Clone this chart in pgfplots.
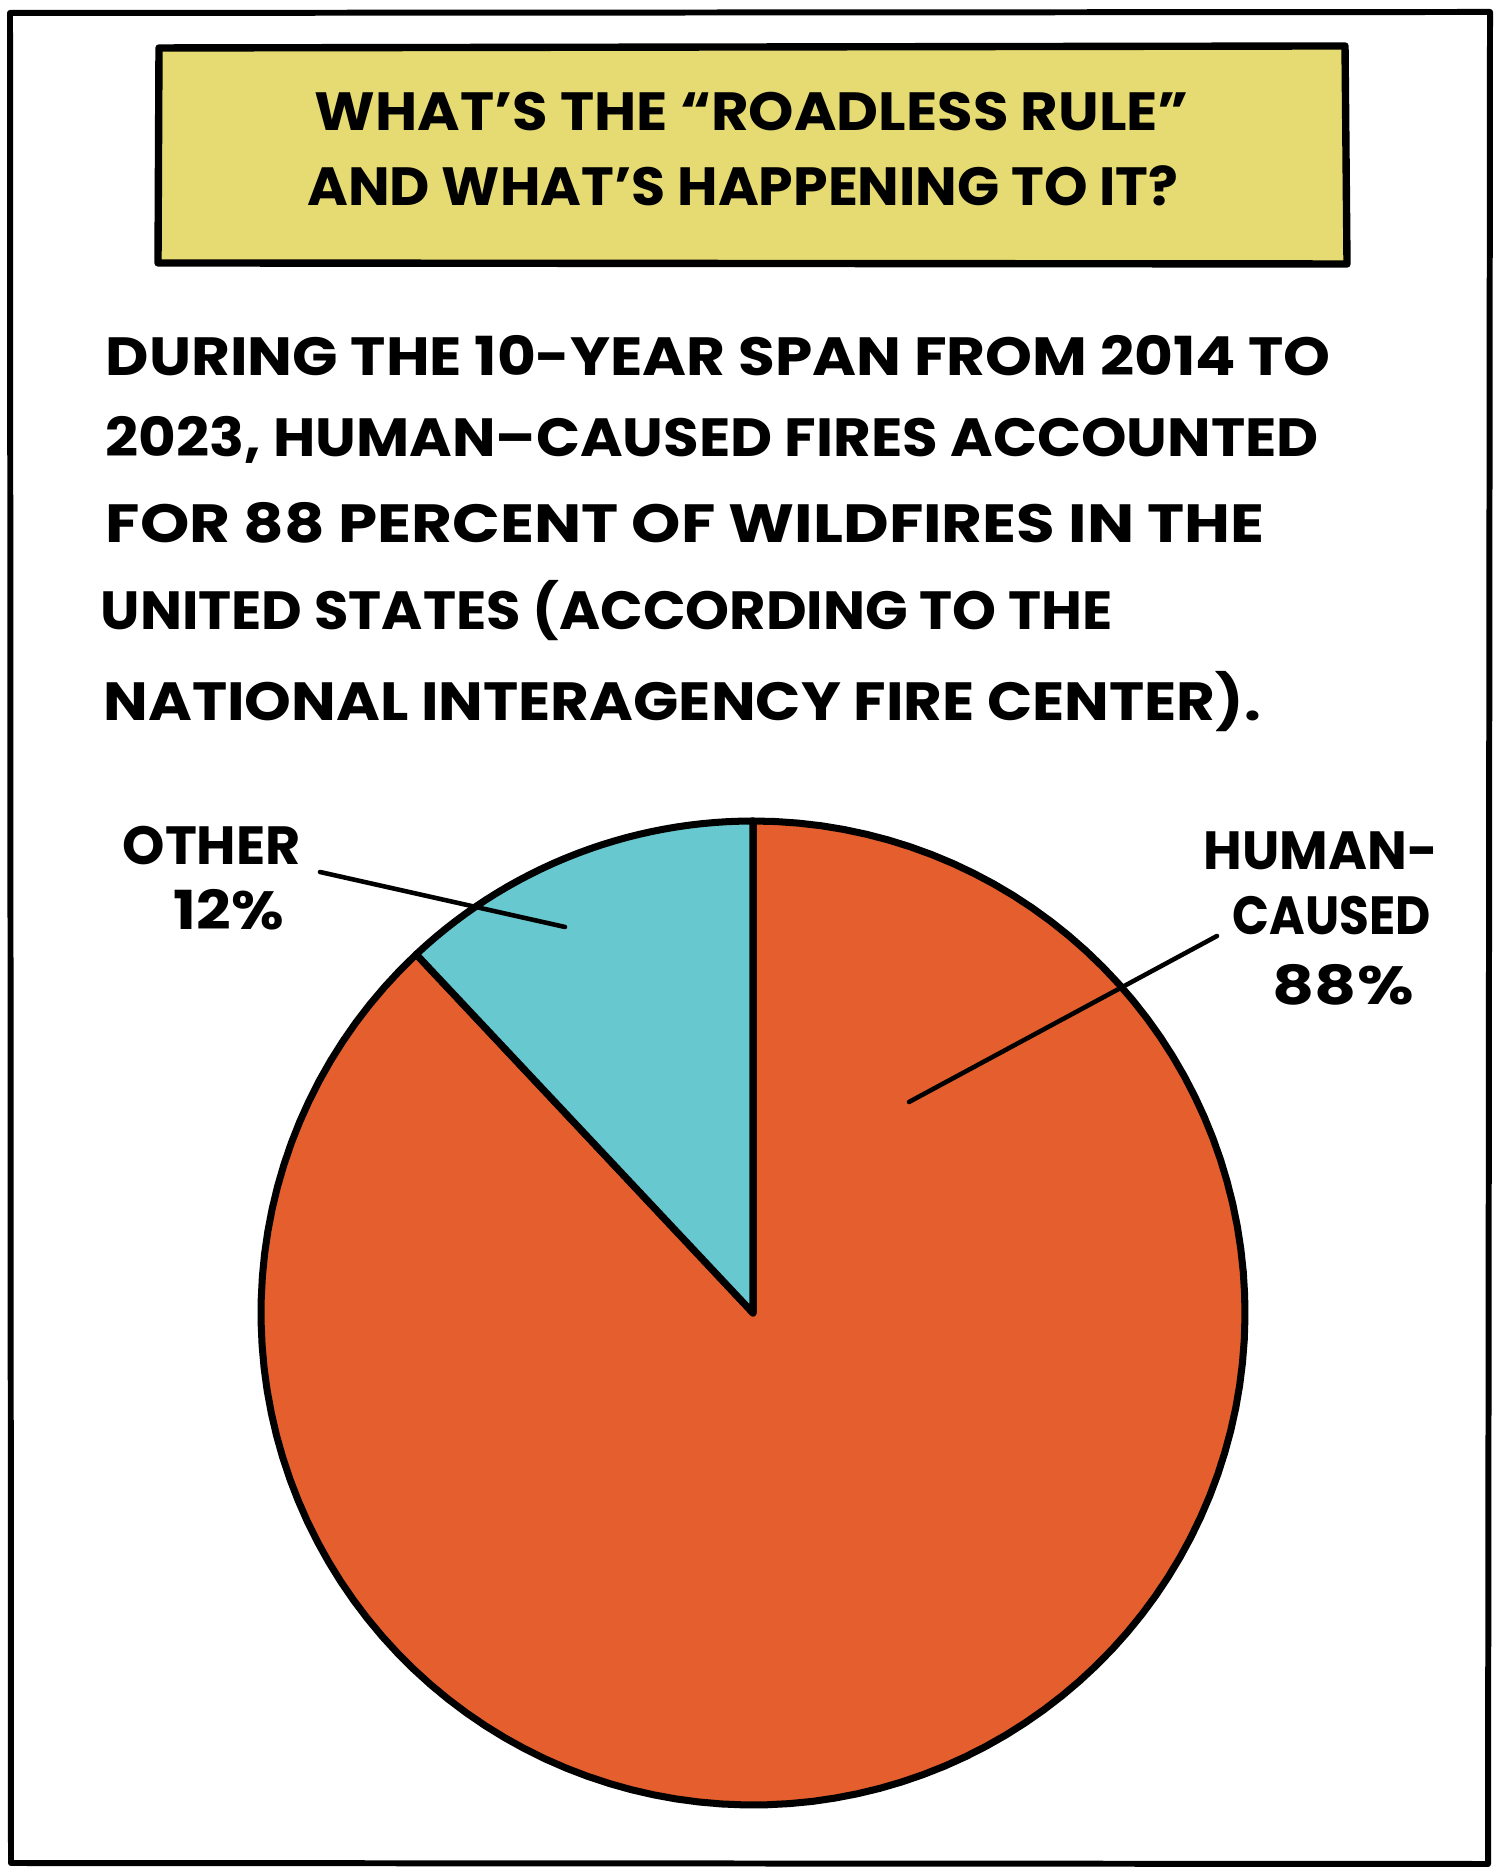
\documentclass[border=0pt]{standalone}
\usepackage{pgfplots}
\pgfplotsset{compat=1.18}
\usepackage{pgfplotstable}
\usepackage{graphicx}
\usepackage{fontspec}
\setmainfont{Poppins}

\definecolor{boxyellow}{HTML}{E6DB72}
\definecolor{firered}{HTML}{E45F2D}
\definecolor{otherteal}{HTML}{68C8CF}

% share of US wildfires 2014--2023 (percent)
\pgfplotstableread{
cause value
Human 88
Other 12
}\firedata

% a line of text stretched to a width given in px (1 px = 0.01 cm)
\newcommand{\hand}[2]{\resizebox{#1\dimexpr0.01cm\relax}{\height}{\fontsize{15.3}{18}\selectfont\bfseries #2}}

\begin{document}
\begin{tikzpicture}
\pgfplotstablegetelem{1}{value}\of\firedata
\let\othershare\pgfplotsretval
\pgfmathsetmacro\split{90+3.6*\othershare}
\begin{axis}[
    x=0.01cm, y=0.01cm,
    scale only axis,
    xmin=0, xmax=1500,
    ymin=0, ymax=1875,
    hide axis,
    clip=false,
]
% page and frame
\path[fill=white] (axis cs:0,0) rectangle (axis cs:1500,1875);
\draw[line width=1.7pt, line join=round]
    (axis cs:10,1862) -- (axis cs:1490,1863) -- (axis cs:1488,11) -- (axis cs:11,12) -- cycle;

% title box
\draw[fill=boxyellow, line width=2.1pt, line join=round]
    (axis cs:159,1827) -- (axis cs:1345,1829) -- (axis cs:1347,1611) -- (axis cs:158,1612) -- cycle;
\node[anchor=base] at (axis cs:752,1744) {\hand{874}{WHAT’S THE “ROADLESS RULE”}};
\node[anchor=base] at (axis cs:743,1669) {\hand{871}{AND WHAT’S HAPPENING TO IT?}};

% body text
\node[anchor=base west, inner sep=0pt] at (axis cs:105,1499) {\hand{1225}{DURING THE 10-YEAR SPAN FROM 2014 TO}};
\node[anchor=base west, inner sep=0pt] at (axis cs:105,1418) {\hand{1213}{2023, HUMAN–CAUSED FIRES ACCOUNTED}};
\node[anchor=base west, inner sep=0pt] at (axis cs:105,1332) {\hand{1159}{FOR 88 PERCENT OF WILDFIRES IN THE}};
\node[anchor=base west, inner sep=0pt] at (axis cs:100,1245) {\hand{1012}{UNITED STATES (ACCORDING TO THE}};
\node[anchor=base west, inner sep=0pt] at (axis cs:103,1154) {\hand{1157}{NATIONAL INTERAGENCY FIRE CENTER).}};

% pie
\addplot[fill=firered, draw=black, line width=2pt, line join=round,
    domain=\split:450, samples=120, variable=\t]
    ({753+492*cos(\t)}, {562+492*sin(\t)}) -- (axis cs:753,562) -- cycle;
\addplot[fill=otherteal, draw=black, line width=2pt, line join=round,
    domain=90:\split, samples=30, variable=\t]
    ({753+492*cos(\t)}, {562+492*sin(\t)}) -- (axis cs:753,562) -- cycle;

% labels and leaders
\draw[line width=1.3pt, line cap=round] (axis cs:320,1003) -- (axis cs:565,948);
\draw[line width=1.3pt, line cap=round] (axis cs:1217,939) -- (axis cs:909,773);
\node[anchor=base west, inner sep=0pt] at (axis cs:122,1010) {\hand{178}{OTHER}};
\node[anchor=base west, inner sep=0pt] at (axis cs:173,945) {\hand{110}{12\%}};
\node[anchor=base west, inner sep=0pt] at (axis cs:1203,1005) {\hand{234}{HUMAN-}};
\node[anchor=base west, inner sep=0pt] at (axis cs:1232,940) {\hand{198}{CAUSED}};
\node[anchor=base west, inner sep=0pt] at (axis cs:1272,870) {\hand{141}{88\%}};
\end{axis}
\end{tikzpicture}
\end{document}
